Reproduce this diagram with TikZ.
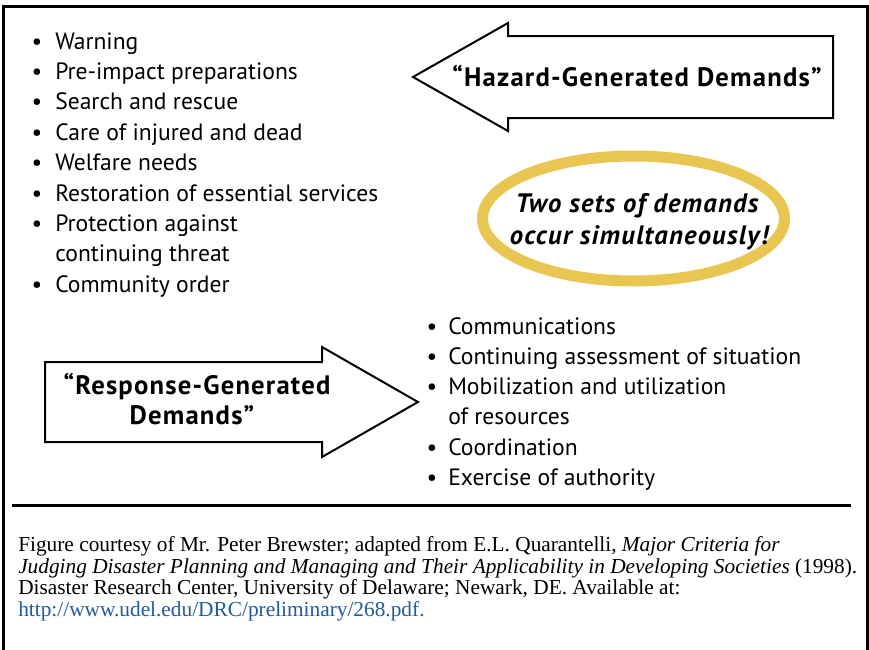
\documentclass[tikz,border=0pt]{standalone}
\usepackage{fontspec}
\usepackage{tikz}
\setmainfont{Liberation Serif}
\newfontfamily\gillsans{PT Sans}
\newfontfamily\gillwide{PT Sans}[LetterSpace=4.5]

\definecolor{ovalgold}{HTML}{E9C652}
\definecolor{linkblue}{HTML}{1F5A99}

\newcommand\itemfnt{\gillsans\fontsize{17.7}{22}\selectfont}
\newcommand\headfnt{\gillwide\bfseries\fontsize{20}{24}\selectfont}
\newcommand\ovalfnt{\gillwide\bfseries\itshape\fontsize{20}{24}\selectfont}
\newcommand\notefnt{\fontsize{16}{18}\selectfont}

\begin{document}
\begin{tikzpicture}[x=0.75pt,y=-0.75pt,
  every node/.style={inner sep=0pt},
  bul/.style={anchor=base, font=\itemfnt},
  itm/.style={anchor=base west, font=\itemfnt},
  head/.style={anchor=base, font=\headfnt},
  ovaltext/.style={anchor=base, font=\ovalfnt},
  note/.style={anchor=base west, font=\notefnt},
  arrowline/.style={line width=1.5pt, line join=miter}]

\useasboundingbox (0,0) rectangle (869,650);

%outer frame, open at the bottom
\draw[line width=2.25pt] (3,670) -- (3,6) -- (867,6) -- (867,670);

% hazard list
\node [bul] (hb1) at (37, 49) {\textbullet};
\node [itm] (h1) at (55, 49) {Warning};
\node [bul] (hb2) at (37, 79) {\textbullet};
\node [itm] (h2) at (55, 79) {Pre-impact preparations};
\node [bul] (hb3) at (37, 109) {\textbullet};
\node [itm] (h3) at (55, 109) {Search and rescue};
\node [bul] (hb4) at (37, 140) {\textbullet};
\node [itm] (h4) at (55, 140) {Care of injured and dead};
\node [bul] (hb5) at (37, 170) {\textbullet};
\node [itm] (h5) at (55, 170) {Welfare needs};
\node [bul] (hb6) at (37, 201) {\textbullet};
\node [itm] (h6) at (55, 201) {Restoration of essential services};
\node [bul] (hb7) at (37, 231) {\textbullet};
\node [itm] (h7) at (55, 231) {Protection against};
\node [itm] (h7b) at (55, 261) {continuing threat};
\node [bul] (hb8) at (37, 292) {\textbullet};
\node [itm] (h8) at (55, 292) {Community order};

% hazard arrow, pointing left
\draw[arrowline] (413,77) -- (508,23) -- (508,36) -- (833,36) -- (833,118)
  -- (508,118) -- (508,131) -- cycle;
\node [head] (hazard) at (637, 86) {“Hazard-Generated Demands”};

% the oval
\draw[ovalgold, line width=8.25pt] (633.5,218.5) ellipse [x radius=151, y radius=62.5];
\node [ovaltext] (oval1) at (637, 212) {Two sets of demands};
\node [ovaltext] (oval2) at (639, 244) {occur simultaneously!};

% response arrow, pointing right
\draw[arrowline] (45,362) -- (322,362) -- (322,347) -- (418,402) -- (322,457)
  -- (322,442) -- (45,442) -- cycle;
\node [head] (resp1) at (197, 394) {“Response-Generated};
\node [head] (resp2) at (192, 424) {Demands”};

% response list
\node [bul] (rb1) at (432, 334) {\textbullet};
\node [itm] (r1) at (448, 334) {Communications};
\node [bul] (rb2) at (432, 364) {\textbullet};
\node [itm] (r2) at (448, 364) {Continuing assessment of situation};
\node [bul] (rb3) at (432, 394) {\textbullet};
\node [itm] (r3) at (448, 394) {Mobilization and utilization};
\node [itm] (r3b) at (448, 424) {of resources};
\node [bul] (rb4) at (432, 455) {\textbullet};
\node [itm] (r4) at (448, 455) {Coordination};
\node [bul] (rb5) at (432, 485) {\textbullet};
\node [itm] (r5) at (448, 485) {Exercise of authority};

% rule
\draw[line width=2.25pt] (12,505) -- (851,505);

% source note
\node [note] (n1) at (18, 551) {Figure courtesy of Mr. Peter Brewster; adapted from E.L. Quarantelli, \textit{Major Criteria for}};
\node [note] (n2) at (18, 573) {\textit{Judging Disaster Planning and Managing and Their Applicability in Developing Societies} (1998).};
\node [note] (n3) at (18, 594) {Disaster Research Center, University of Delaware; Newark, DE. Available at:};
\node [note, text=linkblue] (n4) at (18, 616) {http://www.udel.edu/DRC/preliminary/268.pdf.};

\end{tikzpicture}
\end{document}
